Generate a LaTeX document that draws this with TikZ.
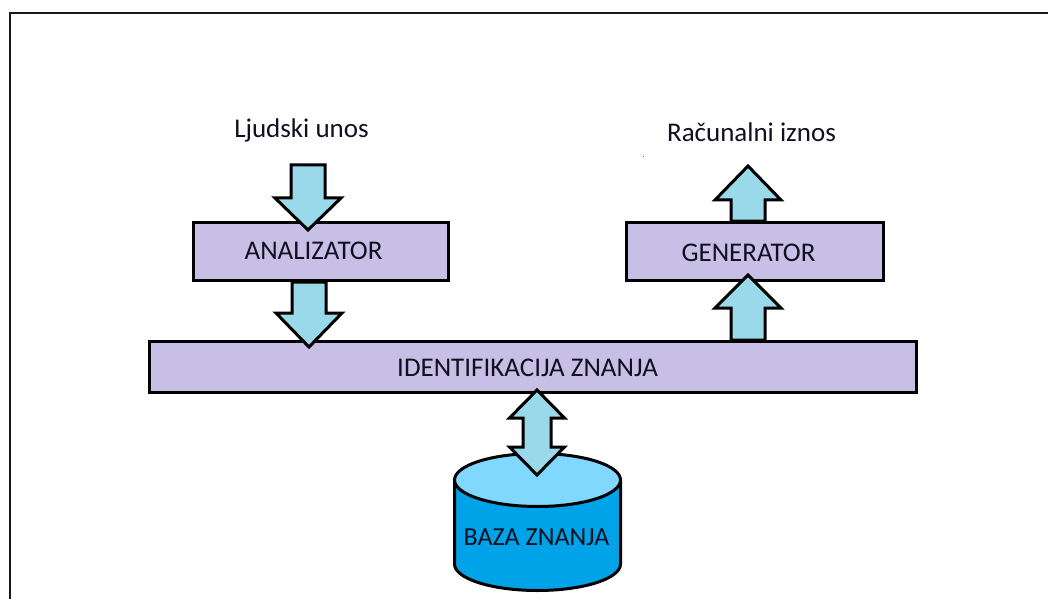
\documentclass[tikz,border=0pt]{standalone}
\usepackage{fontspec}
\setmainfont{Carlito}
\definecolor{boxfill}{HTML}{C8BFE7}
\definecolor{arrfill}{HTML}{99D9EA}
\definecolor{cyltop}{HTML}{80D8FF}
\definecolor{cylbody}{HTML}{00A2E8}
\definecolor{txt}{HTML}{101020}
\newcommand\blockar[6]{\draw[barrow] (#1-#5,#2) -- (#1+#5,#2) -- (#1+#5,#4) -- (#1+#6,#4) -- (#1,#3) -- (#1-#6,#4) -- (#1-#5,#4) -- cycle;}
\begin{document}
\begin{tikzpicture}[x=1pt,y=1pt,
  box/.style={draw=black,line width=3pt,fill=boxfill,inner sep=0pt},
  lbl/.style={anchor=base,text=txt,font=\fontsize{27}{31}\selectfont,inner sep=0pt},
  barrow/.style={draw=black,line width=3pt,fill=arrfill,line join=miter,miter limit=10},
  cyl/.style={draw=black,line width=3pt}]
\useasboundingbox (0,0) rectangle (1048,598);
\clip (0,0) rectangle (1048,598);
\fill[white] (0,0) rectangle (1048,598);
% outer frame
\draw[line width=2pt,color=black!90] (10,-10) -- (10,585) -- (1060,585);
% boxes
\node[box,minimum width=255pt,minimum height=58pt] (ana) at (321,346.5) {};
\node[box,minimum width=257pt,minimum height=58pt] (gen) at (755,346.5) {};
\node[box,minimum width=767pt,minimum height=51pt] (ident) at (533,231) {};
% cylinder
\fill[cylbody] (454.5,118) -- (454.5,34) arc[start angle=180,end angle=360,x radius=83,y radius=26.5] -- (620.5,118) -- cycle;
\draw[cyl] (454.5,118) -- (454.5,34) arc[start angle=180,end angle=360,x radius=83,y radius=26.5] -- (620.5,118);
\draw[cyl,fill=cyltop] (537.5,118) ellipse[x radius=83,y radius=26.5];
% block arrows
\blockar{308}{433}{368}{400}{17}{33}
\blockar{309}{316}{251}{285}{17}{33}
\blockar{748}{377}{432}{398}{17}{33}
\blockar{748}{258}{323}{290}{17}{33}
\draw[barrow] (537,208) -- (564.5,180) -- (551,180) -- (551,151) -- (564.5,151) -- (537,123) -- (509.5,151) -- (523,151) -- (523,180) -- (509.5,180) -- cycle;
% labels
\node[lbl] (lin) at (301.5,460) {Ljudski unos};
\node[lbl] (lout) at (751.5,456) {Računalni iznos};
\node[lbl] (tana) at (313.5,339) {ANALIZATOR};
\node[lbl] (tgen) at (748.5,337) {GENERATOR};
\node[lbl] (tident) at (527.5,222) {IDENTIFIKACIJA ZNANJA};
\node[lbl,font=\fontsize{26}{30}\selectfont] (tbaza) at (536.5,53) {BAZA ZNANJA};
\fill[black!60] (642.5,440.5) rectangle (644,442);
\end{tikzpicture}
\end{document}
